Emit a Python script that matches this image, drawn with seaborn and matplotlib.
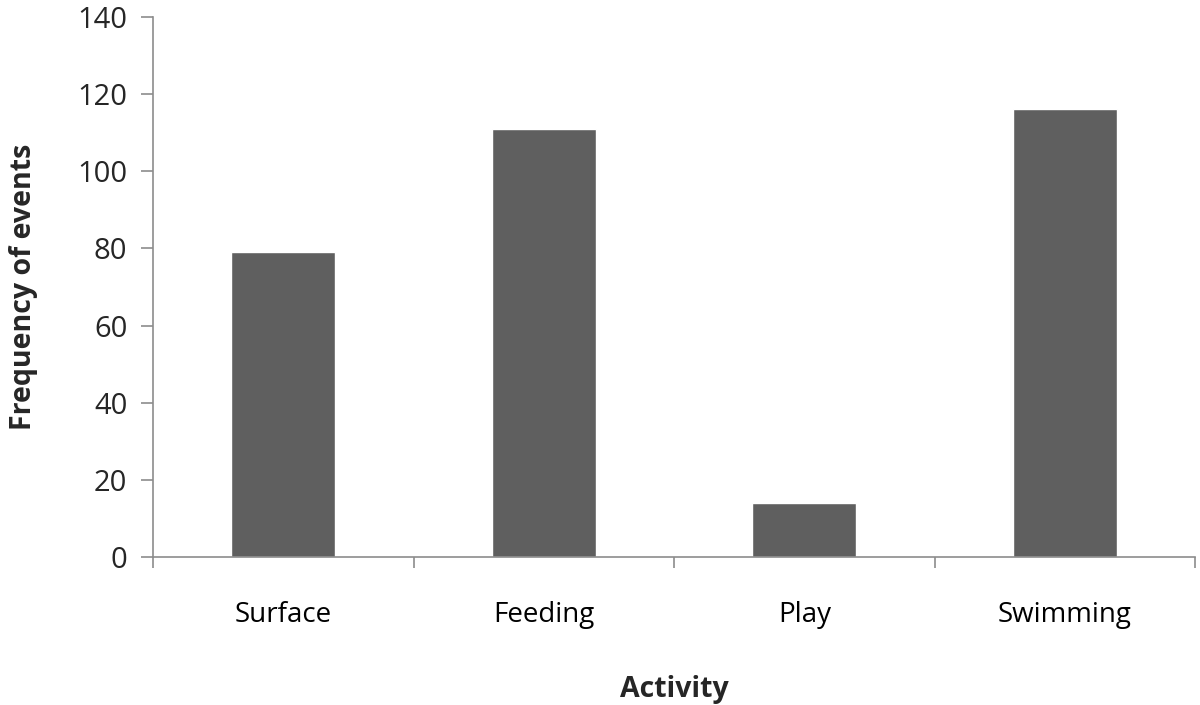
import pandas as pd
import seaborn as sns
import matplotlib.pyplot as plt
from matplotlib.ticker import FixedLocator

# Data
activities = ["Surface", "Feeding", "Play", "Swimming"]
frequency = [79, 111, 14, 116]

df = pd.DataFrame({"activity": activities, "frequency": frequency})

sns.set_style("white")
plt.rcParams["font.family"] = ["Open Sans", "DejaVu Sans"]

fig = plt.figure(figsize=(12, 7.05), dpi=100)
ax = fig.add_axes([0.1275, 0.21, 0.8685, 0.766])

sns.barplot(x="activity", y="frequency", data=df, color="#5f5f5f",
            width=0.4, saturation=1, ax=ax)

ax.set_ylim(0, 140)
ax.set_xlim(-0.5, len(activities) - 0.5)
ax.set_yticks(range(0, 141, 20))

# spines: only left and bottom, grey
for side in ["top", "right"]:
    ax.spines[side].set_visible(False)
for side in ["left", "bottom"]:
    ax.spines[side].set_color("#8c8c8c")
    ax.spines[side].set_linewidth(1.2)

# tick marks between categories on the x axis
ax.xaxis.set_minor_locator(FixedLocator([i - 0.5 for i in range(len(activities) + 1)]))
ax.tick_params(axis="x", which="major", length=0, pad=32, labelsize=20, colors="#000000")
ax.tick_params(axis="x", which="minor", length=8, width=1.2, color="#8c8c8c", direction="out", bottom=True)
ax.tick_params(axis="y", which="major", length=8.5, width=1.2, color="#8c8c8c", direction="out",
               left=True, labelsize=21, pad=10)

ax.set_xlabel("Activity", fontsize=20.5, fontweight="bold", labelpad=33)
ax.set_ylabel("Frequency of events", fontsize=20.5, fontweight="bold", labelpad=28)

plt.savefig("out.png", dpi=100)
